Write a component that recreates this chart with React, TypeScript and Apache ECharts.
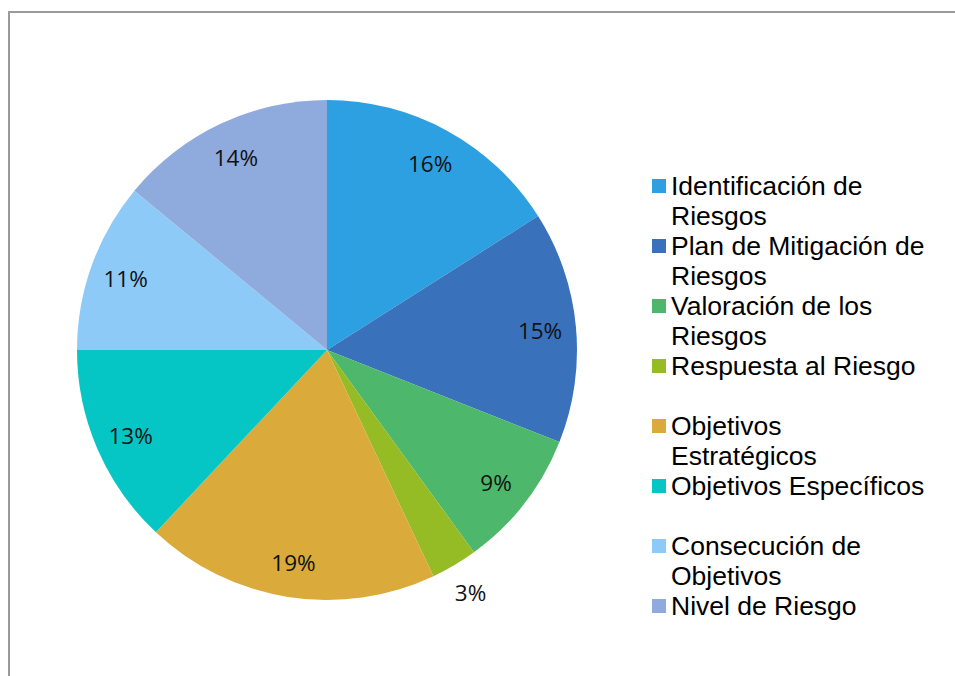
import React, { useEffect, useRef } from "react";
import * as echarts from "echarts";

const categories = [
  "Identificación de Riesgos",
  "Plan de Mitigación de Riesgos",
  "Valoración de los Riesgos",
  "Respuesta al Riesgo",
  "Objetivos Estratégicos",
  "Objetivos Específicos",
  "Consecución de Objetivos",
  "Nivel de Riesgo",
];
const legendLines = [
  "Identificación de\nRiesgos",
  "Plan de Mitigación de\nRiesgos",
  "Valoración de los\nRiesgos",
  "Respuesta al Riesgo\n ",
  "Objetivos\nEstratégicos",
  "Objetivos Específicos\n ",
  "Consecución de\nObjetivos",
  "Nivel de Riesgo\n ",
];
const values = [16, 15, 9, 3, 19, 13, 11, 14];
const colors = ["#2DA0E1", "#3A71BB", "#4DB86B", "#95BC25", "#DAAA3A", "#05C5C5", "#8ECAF8", "#8FAADC"];
const outsideLabels = ["Respuesta al Riesgo"];

export default function App() {
  const ref = useRef<HTMLDivElement>(null);
  useEffect(() => {
    const chart = echarts.init(ref.current!, null, { renderer: "svg" });
    const labelFont = { fontFamily: "Open Sans", fontSize: 22.5, color: "#111" };
    const legendMap: Record<string, string> = {};
    categories.forEach((c, i) => (legendMap[c] = legendLines[i]));
    chart.setOption({
      animation: false,
      color: colors,
      graphic: [
        {
          type: "rect",
          shape: { x: 9, y: 12, width: 1000, height: 700 },
          style: { fill: "none", stroke: "#9a9a9a", lineWidth: 2 },
          silent: true,
        },
      ],
      legend: {
        orient: "vertical",
        left: 652,
        top: 171,
        padding: 0,
        itemWidth: 14,
        itemHeight: 44,
        itemGap: 0,
        icon: "path://M0 0L14 0L14 14L0 14Z M0 44L0.001 44",
        data: categories,
        formatter: (name: string) => legendMap[name],
        textStyle: {
          fontFamily: "Liberation Sans",
          fontSize: 26.5,
          lineHeight: 30,
          color: "#000",
        },
        itemStyle: { borderWidth: 0 },
        selectedMode: false,
      },
      series: [
        {
          type: "pie",
          center: [327, 350],
          radius: [0, 250],
          startAngle: 90,
          clockwise: true,
          silent: true,
          label: { show: false },
          labelLine: { show: false },
          itemStyle: { borderWidth: 0 },
          data: categories.map((n, i) => ({ name: n, value: values[i] })),
        },
        {
          type: "pie",
          center: [327, 351],
          radius: [172, 250],
          startAngle: 90,
          silent: true,
          itemStyle: { color: "rgba(0,0,0,0)", borderWidth: 0 },
          labelLine: { show: false },
          label: { show: true, position: "inside", formatter: "{c}%", ...labelFont },
          data: categories.map((n, i) => ({
            name: n,
            value: values[i],
            label: { show: !outsideLabels.includes(n) },
          })),
        },
        {
          type: "pie",
          center: [327, 350],
          radius: [250, 308],
          startAngle: 90,
          silent: true,
          itemStyle: { color: "rgba(0,0,0,0)", borderWidth: 0 },
          labelLine: { show: false },
          label: { show: true, position: "inside", formatter: "{c}%", ...labelFont },
          data: categories.map((n, i) => ({
            name: n,
            value: values[i],
            label: { show: outsideLabels.includes(n) },
          })),
        },
      ],
    });
    return () => chart.dispose();
  }, []);
  return (
    <div
      ref={ref}
      style={{ position: "fixed", left: 0, top: 0, width: 955, height: 676, background: "#fff" }}
    />
  );
}
